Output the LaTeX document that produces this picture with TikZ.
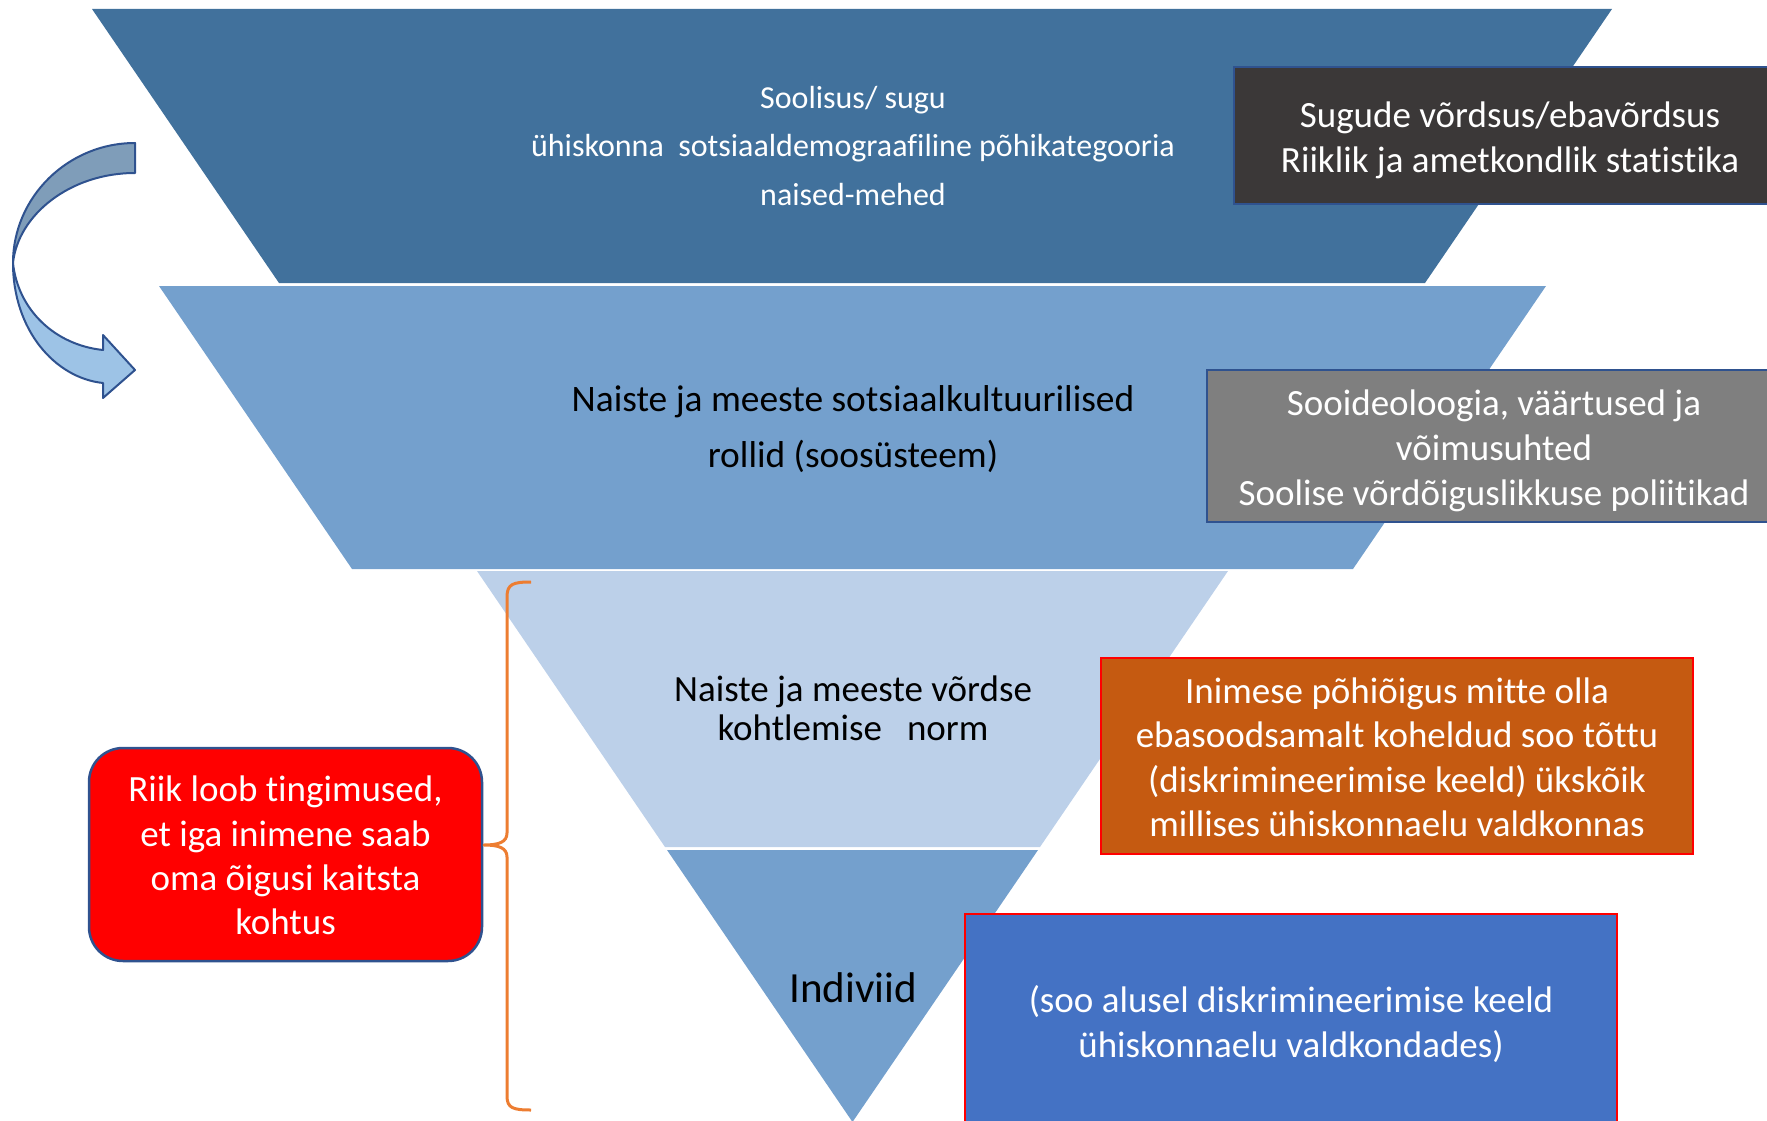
\documentclass[tikz,border=0pt]{standalone}
\usepackage{fontspec}
\setmainfont{Carlito}[Ligatures=CommonOff]
\definecolor{bandA}{HTML}{41719C}
\definecolor{bandB}{HTML}{74A0CD}
\definecolor{bandC}{HTML}{BCD0E9}
\definecolor{edgeblue}{HTML}{2F528F}
\definecolor{darkfill}{HTML}{3B3838}
\definecolor{grayfill}{HTML}{7F7F7F}
\definecolor{orangefill}{HTML}{C55A11}
\definecolor{bluefill}{HTML}{4472C4}
\definecolor{bracecol}{HTML}{ED7D31}
\definecolor{arrowdark}{HTML}{7F9DB9}
\definecolor{arrowlight}{HTML}{9DC3E6}
\begin{document}
\begin{tikzpicture}[x=1pt,y=-1pt,
  infobox/.style={draw=edgeblue,line width=2.5pt,text=white,align=center,inner sep=0pt,
    font=\fontsize{37}{45}\selectfont},
  redframe/.style={infobox,draw=red},
  boxtext/.style={text=white,align=center,inner sep=0pt,font=\fontsize{37}{45}\selectfont},
  bandtext/.style={align=center,inner sep=0pt}]
\useasboundingbox (0,0) rectangle (1767,1121);
\clip (0,0) rectangle (1767,1121);
% bands
\fill[bandA] (92,9) -- (1612,9) -- (1425,283) -- (279,283) -- cycle;
\fill[bandB] (159,286) -- (1546,286) -- (1353,569) -- (352,569) -- cycle;
\fill[bandC] (477,571) -- (1228,571) -- (1040,847) -- (665,847) -- cycle;
\fill[bandB] (667,850) -- (1038,850) -- (852.5,1122) -- cycle;
% band texts
\node[bandtext,text=white,font=\fontsize{32}{48.5}\selectfont] (t1) at (853,146)
  {Soolisus/ sugu\\ühiskonna\ \ sotsiaaldemograafiline põhikategooria\\naised-mehed};
\node[bandtext,font=\fontsize{37.4}{56}\selectfont] (t2) at (853,429)
  {Naiste ja meeste sotsiaalkultuurilised\\rollid (soosüsteem)};
\node[bandtext,font=\fontsize{37}{39}\selectfont] (t3) at (853,708.7)
  {Naiste ja meeste võrdse\\kohtlemise\ \ \ norm};
\node[bandtext,font=\fontsize{43}{50}\selectfont] (t4) at (853,988) {Indiviid};
% side boxes
\node[infobox,fill=darkfill,minimum width=552,minimum height=137] (b1) at (1510,135.5) {};
\node[boxtext] (b1text) at ([yshift=-4.5pt]b1.center)
  {Sugude võrdsus/ebavõrdsus\\Riiklik ja ametkondlik statistika};
\node[infobox,fill=grayfill,minimum width=574,minimum height=152] (b2) at (1494,446) {};
\node[boxtext] (b2text) at ([yshift=-4.5pt]b2.center)
  {Sooideoloogia, väärtused ja\\võimusuhted\\Soolise võrdõiguslikkuse poliitikad};
\node[redframe,fill=orangefill,minimum width=592,minimum height=196] (b3) at (1397,756) {};
\node[boxtext,font=\fontsize{37}{44.3}\selectfont] (b3text) at ([yshift=-1.2pt]b3.center)
  {Inimese põhiõigus mitte olla\\ebasoodsamalt koheldud soo tõttu\\(diskrimineerimise keeld) ükskõik\\millises ühiskonnaelu valdkonnas};
\node[redframe,fill=bluefill,minimum width=652,minimum height=216] (b4) at (1291,1022) {};
\node[boxtext] (b4text) at ([yshift=-2.2pt]b4.center)
  {(soo alusel diskrimineerimise keeld\\ühiskonnaelu valdkondades)};
\node[infobox,fill=red,rounded corners=34,minimum width=393,minimum height=213] (b5) at (285.5,854.5) {};
\node[boxtext,font=\fontsize{37}{44.3}\selectfont] (b5text) at ([yshift=-1.2pt]b5.center)
  {Riik loob tingimused,\\et iga inimene saab\\oma õigusi kaitsta\\kohtus};
% brace
\coordinate (bracetip) at (484,845);
\draw[bracecol,line width=3pt,line join=round]
  (531,582) .. controls (513,582) and (507,584) .. (507,597) -- (507,833)
  .. controls (507,842) and (499,845) .. (bracetip)
  .. controls (499,845) and (507,848) .. (507,857) -- (507,1096)
  .. controls (507,1108) and (513,1110) .. (531,1110);
% curved arrow
\filldraw[fill=arrowdark,draw=edgeblue,line width=2pt,line join=round]
  (135,143) .. controls (68,143) and (13,197) .. (13,263)
  .. controls (18,215) and (70,173) .. (135,173) -- cycle;
\filldraw[fill=arrowlight,draw=edgeblue,line width=2pt,line join=round]
  (13,263) .. controls (13,330) and (55,378) .. (103,383) -- (103,398) -- (135,370)
  -- (103,335) -- (103,350) .. controls (55,345) and (18,310) .. (13,263) -- cycle;
\end{tikzpicture}
\end{document}
